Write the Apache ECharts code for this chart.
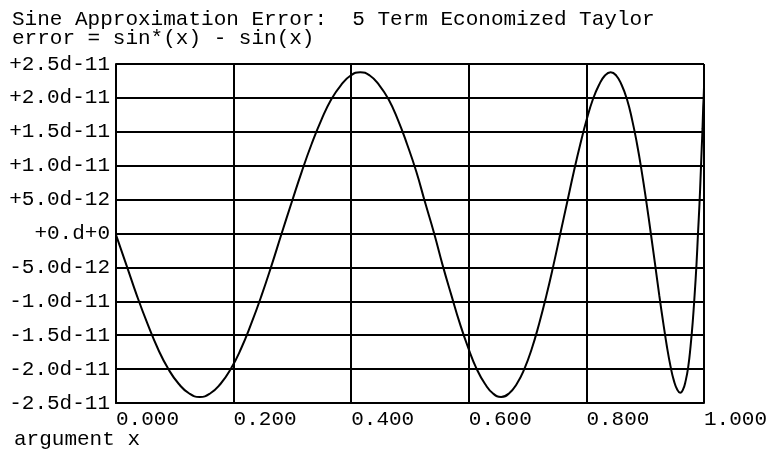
<!DOCTYPE html>
<html>
<head>
<meta charset="utf-8">
<script src="https://cdn.jsdelivr.net/npm/echarts@6/dist/echarts.min.js"></script>
<style>
html,body{margin:0;padding:0;background:#fff;}
#c{width:770px;height:450px;}
</style>
</head>
<body>
<div id="c"></div>
<script>
// argument x
var xValues = [
  1.0000, 0.9998, 0.9994, 0.9986, 0.9975, 0.9961, 0.9943, 0.9923, 0.9898, 0.9872,
  0.9841, 0.9808, 0.9772, 0.9733, 0.9689, 0.9644, 0.9595, 0.9544, 0.9488, 0.9431,
  0.9370, 0.9306, 0.9239, 0.9169, 0.9096, 0.9021, 0.8942, 0.8861, 0.8777, 0.8690,
  0.8600, 0.8508, 0.8413, 0.8315, 0.8214, 0.8111, 0.8005, 0.7897, 0.7786, 0.7673,
  0.7557, 0.7439, 0.7318, 0.7196, 0.7071, 0.6944, 0.6815, 0.6683, 0.6550, 0.6413,
  0.6277, 0.6135, 0.5996, 0.5849, 0.5707, 0.5556, 0.5411, 0.5256, 0.5108, 0.4949,
  0.4793, 0.4635, 0.4476, 0.4316, 0.4154, 0.3991, 0.3827, 0.3662, 0.3495, 0.3327,
  0.3158, 0.2988, 0.2817, 0.2646, 0.2473, 0.2300, 0.2126, 0.1951, 0.1776, 0.1600,
  0.1423, 0.1246, 0.1069, 0.0891, 0.0713, 0.0535, 0.0357, 0.0179, 0.0000];
// error in units of 1e-12
var errValues = [
  21.5, 21.0, 20.0, 18.5, 15.5, 12.5, 8.5, 4.3, 0.0, -4.6,
  -9.0, -13.1, -16.6, -19.6, -21.7, -23.0, -23.5, -23.0, -21.7, -19.6,
  -16.7, -13.1, -9.1, -4.6, 0.0, 4.6, 9.1, 13.2, 16.8, 19.8,
  21.9, 23.3, 23.8, 23.3, 21.9, 19.8, 16.8, 13.2, 9.1, 4.6,
  0.0, -4.7, -9.2, -13.3, -17.0, -20.0, -22.2, -23.6, -24.1, -23.6,
  -22.2, -20.0, -17.0, -13.3, -9.2, -4.7, 0.0, 4.6, 9.1, 13.2,
  16.8, 19.8, 21.9, 23.3, 23.8, 23.3, 21.9, 19.8, 16.8, 13.2,
  9.1, 4.6, 0.0, -4.7, -9.2, -13.3, -17.0, -20.0, -22.2, -23.6,
  -24.1, -23.6, -22.2, -20.0, -17.0, -13.3, -9.2, -4.7, -0.2];
var yTickLabels = ['-2.5d-11', '-2.0d-11', '-1.5d-11', '-1.0d-11', '-5.0d-12', '+0.d+0',
  '+5.0d-12', '+1.0d-11', '+1.5d-11', '+2.0d-11', '+2.5d-11'];
var xTickLabels = ['0.000', '0.200', '0.400', '0.600', '0.800', '1.000'];
var titleLine1 = 'Sine Approximation Error:  5 Term Economized Taylor';
var titleLine2 = 'error = sin*(x) - sin(x)';
var xAxisTitle = 'argument x';

var FONT = '"Liberation Mono", "DejaVu Sans Mono", monospace';
var pts = [];
for (var i = 0; i < xValues.length; i++) pts.push([xValues[i], errValues[i]]);
pts.sort(function (a, b) { return a[0] - b[0]; });

var chart = echarts.init(document.getElementById('c'), null, {renderer: 'canvas'});
chart.setOption({
  backgroundColor: '#ffffff',
  animation: false,
  title: [{
    text: titleLine1 + '\n' + titleLine2,
    left: 12, top: 10, padding: 0,
    textStyle: {fontFamily: FONT, fontSize: 21, fontWeight: 'normal', color: '#000', lineHeight: 19}
  }, {
    text: xAxisTitle,
    left: 14, top: 429, padding: 0,
    textStyle: {fontFamily: FONT, fontSize: 21, fontWeight: 'normal', color: '#000', lineHeight: 20}
  }],
  grid: {left: 116, right: 60, top: 64, bottom: 47, containLabel: false},
  xAxis: {
    type: 'value', min: 0, max: 1, interval: 0.2,
    axisLine: {show: true, onZero: false, lineStyle: {color: '#000', width: 2}},
    axisTick: {show: false},
    splitLine: {show: true, lineStyle: {color: '#000', width: 2}},
    axisLabel: {
      align: 'left', margin: 6,
      fontFamily: FONT, fontSize: 21, color: '#000',
      formatter: function (v) { return xTickLabels[Math.round(v / 0.2)]; }
    }
  },
  yAxis: {
    type: 'value', min: -25, max: 25, interval: 5,
    axisLine: {show: true, lineStyle: {color: '#000', width: 2}},
    axisTick: {show: false},
    splitLine: {show: true, lineStyle: {color: '#000', width: 2}},
    axisLabel: {
      margin: 6, verticalAlign: 'middle', padding: [0, 0, 12, 0],
      fontFamily: FONT, fontSize: 21, color: '#000',
      formatter: function (v) { return yTickLabels[Math.round((v + 25) / 5)]; }
    }
  },
  series: [{
    type: 'line', data: pts, smooth: true, showSymbol: false,
    lineStyle: {color: '#000', width: 2}, clip: true
  }]
});
</script>
</body>
</html>
